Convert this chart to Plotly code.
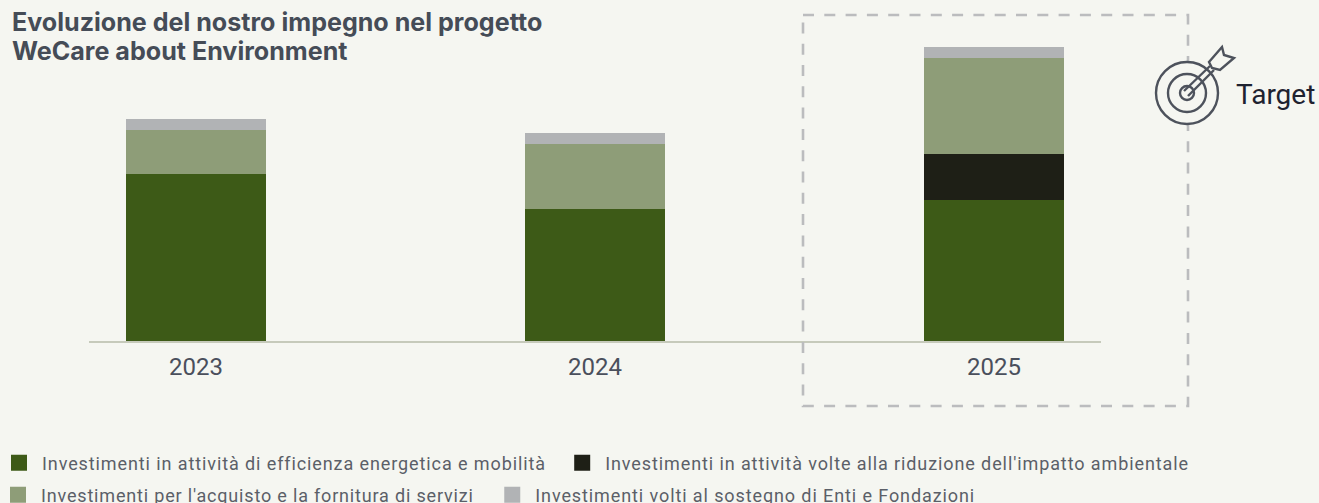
import plotly.graph_objects as go

years = ["2023", "2024", "2025"]
efficienza = [167, 132, 141]
riduzione = [0, 0, 46]
fornitura = [44, 65, 96]
sostegno = [11, 11, 11]
names = [
    "Investimenti in attività di efficienza energetica e mobilità",
    "Investimenti in attività volte alla riduzione dell'impatto ambientale",
    "Investimenti per l'acquisto e la fornitura di servizi",
    "Investimenti volti al sostegno di Enti e Fondazioni",
]
colors = ["#3d5a17", "#1e1f16", "#8e9d78", "#b1b3b5"]
legend_ids = ["legend", "legend", "legend2", "legend2"]
tracking = [0.9, 0.9, 0.82, 0.9]
trailing = ['<span style="font-size:13px">&nbsp;&nbsp;</span>', "", "&nbsp;&nbsp;", ""]
BG = "#f5f6f1"
W, H = 1319, 503
L, R, B = 89, 1101, 341


def px(x):
    return x / W


def py(y):
    return 1 - y / H


fig = go.Figure()
for name, vals, c in zip(names, [efficienza, riduzione, fornitura, sostegno], colors):
    fig.add_trace(go.Bar(x=years, y=vals, name=name, showlegend=False,
                         marker=dict(color=c, line_width=0), width=0.351))
for name, c, lg, sp, tail in zip(names, colors, legend_ids, tracking, trailing):
    label = f'<span style="letter-spacing:{sp}px">{name}{tail}</span>'
    fig.add_trace(go.Scatter(x=[None], y=[None], mode="markers", name=label, legend=lg, hoverinfo="skip",
                             marker=dict(color=c, size=16, symbol="square", line_width=0)))

ink = "#4d525c"
shapes = [
    dict(type="rect", x0=px(803), x1=px(1188), y0=py(15), y1=py(406),
         line=dict(color="#bbbcbe", width=2.6, dash="11px,10.3px"), layer="above"),
]
for r in (31, 19, 7):
    shapes.append(dict(type="circle", x0=px(1187 - r), x1=px(1187 + r), y0=py(93 - r), y1=py(93 + r),
                       line=dict(color=ink, width=2.4), fillcolor=BG, layer="above"))
for a, b in [((1184, 91), (1210, 66)), ((1188, 96), (1214, 70))]:
    shapes.append(dict(type="line", x0=px(a[0]), y0=py(a[1]), x1=px(b[0]), y1=py(b[1]),
                       line=dict(color=ink, width=2.4), layer="above"))
fletch = [(1209, 62), (1222, 47), (1224, 55), (1234, 58), (1220, 70), (1212, 68)]
path = "M" + "L".join(f"{px(x):.5f},{py(y):.5f}" for x, y in fletch) + "Z"
shapes.append(dict(type="path", path=path, line=dict(color=ink, width=2.4), fillcolor=BG, layer="above"))
for s in shapes:
    s["xref"] = "paper"
    s["yref"] = "paper"

legend_common = dict(orientation="h", xanchor="right", yanchor="top", itemwidth=36, traceorder="normal",
                     font=dict(size=18, color="#5b5f68", family="Roboto"), bgcolor="rgba(0,0,0,0)")

fig.update_layout(
    width=W, height=H, barmode="stack", paper_bgcolor=BG, plot_bgcolor=BG,
    margin=dict(l=0, r=0, t=0, b=0, pad=0, autoexpand=False),
    showlegend=True,
    font=dict(family="Inter, Roboto, sans-serif", color="#4a4f5c"),
    title=dict(text='<b><span style="font-size:25.1px">Evoluzione del nostro impegno nel progetto<br>WeCare about Environment</span></b>',
               x=12 / W, xanchor="left", xref="paper", y=1 - 31 / H, yanchor="top", yref="container",
               font=dict(size=22.5, color="#454c57", family="Inter, sans-serif")),
    xaxis=dict(type="category", categoryorder="array", categoryarray=years, range=[-0.268, 2.268],
               domain=[L / W, R / W],
               showgrid=False, showline=True, linecolor="#c6cabb", linewidth=1.5, ticks="outside",
               ticklen=3, tickcolor="rgba(0,0,0,0)", tickfont=dict(size=24, color="#4a4f5c", family="Roboto")),
    yaxis=dict(range=[0, 341], domain=[1 - B / H, 1], visible=False, fixedrange=True),
    legend=dict(x=px(1194), y=py(444.5), **legend_common),
    legend2=dict(x=px(981), y=py(476.5), **legend_common),
    shapes=shapes,
    annotations=[dict(text="Target", xref="paper", yref="paper", x=px(1235), y=py(95), xanchor="left",
                      yanchor="middle", showarrow=False, xshift=-1, font=dict(size=28, color="#1e2230", family="Roboto"))],
)
fig.write_html("out.html", post_script="document.body.style.margin='0';", config=dict(displayModeBar=False))
